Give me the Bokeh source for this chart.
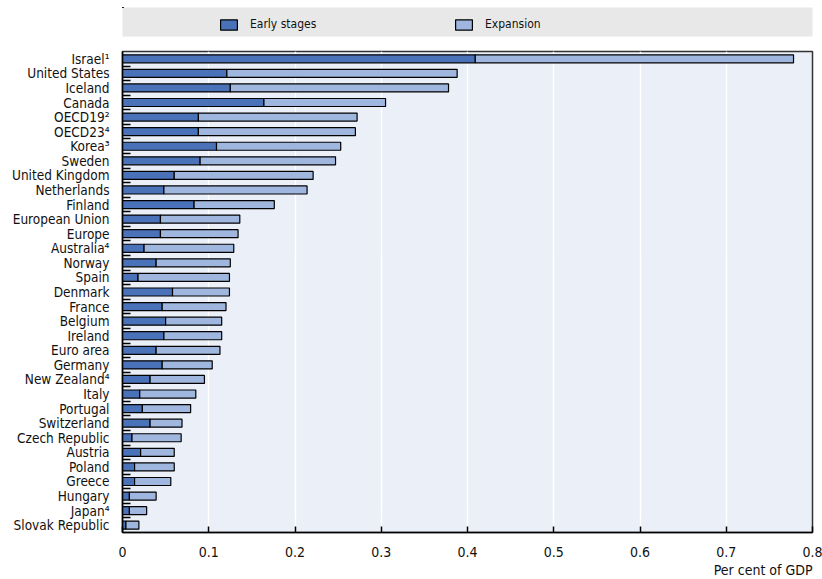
from bokeh.plotting import figure
from bokeh.models import (FixedTicker, NumeralTickFormatter, Range1d, Legend,
                          LegendItem, ColumnDataSource, Title)
from bokeh.layouts import column
from bokeh.embed import file_html
from bokeh.resources import INLINE

countries = ["Israel¹", "United States", "Iceland", "Canada", "OECD19²", "OECD23⁴",
             "Korea³", "Sweden", "United Kingdom", "Netherlands", "Finland",
             "European Union", "Europe", "Australia⁴", "Norway", "Spain", "Denmark",
             "France", "Belgium", "Ireland", "Euro area", "Germany", "New Zealand⁴",
             "Italy", "Portugal", "Switzerland", "Czech Republic", "Austria", "Poland",
             "Greece", "Hungary", "Japan⁴", "Slovak Republic"]
early = [0.409, 0.121, 0.125, 0.164, 0.088, 0.088, 0.109, 0.090, 0.060, 0.048, 0.083,
         0.044, 0.044, 0.025, 0.039, 0.018, 0.058, 0.046, 0.050, 0.048, 0.039, 0.046,
         0.032, 0.020, 0.023, 0.032, 0.011, 0.021, 0.014, 0.014, 0.008, 0.008, 0.004]
expansion = [0.369, 0.267, 0.253, 0.141, 0.184, 0.182, 0.144, 0.157, 0.161, 0.166, 0.093,
             0.092, 0.090, 0.104, 0.086, 0.106, 0.066, 0.074, 0.065, 0.067, 0.074, 0.058,
             0.063, 0.065, 0.056, 0.037, 0.057, 0.039, 0.046, 0.042, 0.031, 0.020, 0.015]
x_ticks = [0, 0.1, 0.2, 0.3, 0.4, 0.5, 0.6, 0.7, 0.8]
series_names = ["Early stages", "Expansion"]
x_label = "Per cent of GDP"

C_EARLY = "#4a72b9"
C_EXP = "#9fb6df"
FONT = "DejaVu Sans Condensed, Liberation Sans Narrow, sans-serif"

n = len(countries)
ypos = [n - 1 - i for i in range(n)]
source = ColumnDataSource(dict(y=ypos, early=early, expansion=expansion, name=countries))

W = 822

# ---- legend strip (its bars use the same data but lie far outside the visible ranges) ----
leg = figure(width=W, height=44, x_range=(10, 11), y_range=(-100, -99),
             toolbar_location=None, output_backend="svg",
             min_border_left=118, min_border_right=2,
             min_border_top=7, min_border_bottom=8,
             x_axis_location=None, y_axis_location=None,
             background_fill_color="#e8e8e8", outline_line_color=None,
             border_fill_color="white")
leg.grid.visible = False
rs = leg.hbar_stack(["early", "expansion"], y="y", height=0.55, source=source,
                    fill_color=[C_EARLY, C_EXP], line_color="black", line_width=1.2)
legend = Legend(items=[LegendItem(label=series_names[0], renderers=[rs[0]]),
                       LegendItem(label=series_names[1], renderers=[rs[1]])],
                orientation="horizontal", location=(96, 5), margin=0, padding=4,
                spacing=0, glyph_width=21, glyph_height=13, label_standoff=11,
                label_width=203, label_text_font=FONT, label_text_font_size="12px",
                label_text_color="#111111",
                background_fill_alpha=0, border_line_color=None)
leg.add_layout(legend, "center")

# ---- main chart ----
p = figure(width=W, height=535, x_range=Range1d(0, 0.8),
           y_range=Range1d(-0.5, n - 0.5),
           toolbar_location=None, output_backend="svg",
           min_border_left=122, min_border_right=10,
           min_border_top=7, min_border_bottom=47,
           background_fill_color="#eaeff8", border_fill_color="white",
           outline_line_color="#333333", outline_line_width=1.5)

p.hbar_stack(["early", "expansion"], y="y", height=0.55, source=source,
             fill_color=[C_EARLY, C_EXP], line_color="black", line_width=1.2)

p.ygrid.visible = False
p.xgrid.grid_line_color = "white"
p.xgrid.grid_line_width = 1.5

xa = p.xaxis[0]
xa.ticker = FixedTicker(ticks=x_ticks)
xa.formatter = NumeralTickFormatter(format="0.[0]")
xa.major_tick_in = 6
xa.major_tick_out = 0
xa.minor_tick_line_color = None
xa.major_tick_line_color = "black"
xa.major_tick_line_width = 1.5
xa.axis_line_color = "black"
xa.axis_line_width = 1.5
xa.major_label_text_font = FONT
xa.major_label_text_font_size = "14px"
xa.major_label_text_color = "#111111"
xa.major_label_standoff = 14

p.add_layout(Title(text=x_label, align="right", text_font=FONT,
                   text_font_size="14px", text_font_style="normal",
                   text_color="#111111", standoff=0, offset=0), "below")

ya = p.yaxis[0]
ya.ticker = FixedTicker(ticks=ypos, minor_ticks=[k + 0.5 for k in range(n - 1)])
ya.major_label_overrides = {yy: nm for yy, nm in zip(ypos, countries)}
ya.major_tick_in = 0
ya.major_tick_out = 0
ya.minor_tick_in = 8
ya.minor_tick_out = 0
ya.minor_tick_line_color = "black"
ya.minor_tick_line_width = 1.5
ya.axis_line_color = "black"
ya.axis_line_width = 1.5
ya.major_label_text_font = FONT
ya.major_label_text_font_size = "13.5px"
ya.major_label_text_color = "#111111"
ya.major_label_standoff = 13

layout = column(leg, p, spacing=0)
open("out.html", "w").write(file_html(layout, INLINE))
